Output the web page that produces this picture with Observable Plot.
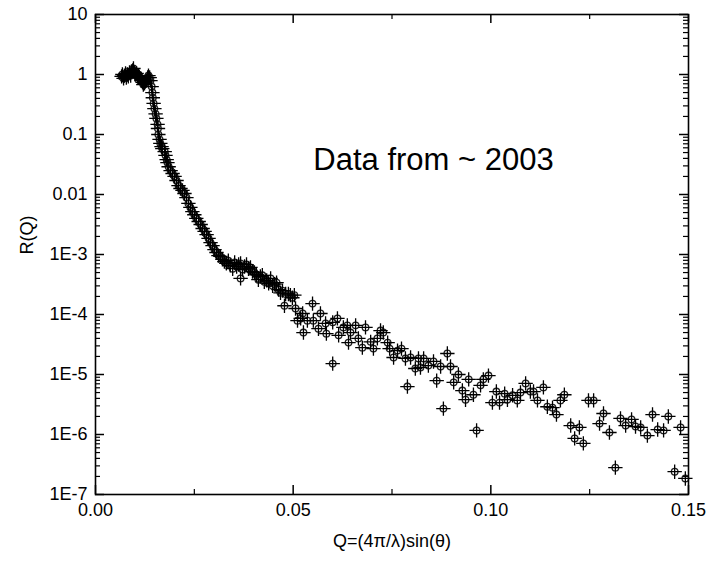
<!DOCTYPE html>
<html>
<head>
<meta charset="utf-8">
<script src="https://cdn.jsdelivr.net/npm/d3@7"></script>
<script src="https://cdn.jsdelivr.net/npm/@observablehq/plot@0.6"></script>
<style>
  html, body { margin: 0; padding: 0; background: #fff; }
</style>
</head>
<body>
<div id="chart"></div>
<script>
// Q values (x) and reflectivity R(Q) (y)
const q = [
  0.0066,0.0068,0.0071,0.0073,0.0076,0.0078,0.0081,0.0083,0.0086,0.0089,
  0.0091,0.0094,0.0096,0.0099,0.0101,0.0104,0.0106,0.0109,0.0111,0.0114,
  0.0116,0.0119,0.0121,0.0124,0.0126,0.0129,0.0132,0.0134,0.0137,0.0139,
  0.0142,0.0144,0.0145,0.0147,0.0149,0.0152,0.0154,0.0157,0.0158,0.0159,
  0.0162,0.0164,0.0167,0.0169,0.0175,0.0177,0.0180,0.0182,0.0185,0.0190,
  0.0195,0.0200,0.0205,0.0210,0.0215,0.0220,0.0225,0.0230,0.0235,0.0240,
  0.0245,0.0250,0.0255,0.0261,0.0266,0.0271,0.0276,0.0281,0.0286,0.0291,
  0.0296,0.0301,0.0306,0.0311,0.0316,0.0321,0.0326,0.0331,0.0336,0.0341,
  0.0347,0.0352,0.0357,0.0362,0.0367,0.0367,0.0372,0.0377,0.0382,0.0387,
  0.0392,0.0397,0.0402,0.0407,0.0412,0.0417,0.0422,0.0427,0.0433,0.0438,
  0.0443,0.0448,0.0453,0.0458,0.0463,0.0468,0.0473,0.0478,0.0481,0.0488,
  0.0493,0.0498,0.0503,0.0506,0.0511,0.0519,0.0524,0.0526,0.0536,0.0549,
  0.0551,0.0564,0.0569,0.0582,0.0584,0.0600,0.0600,0.0612,0.0615,0.0627,
  0.0637,0.0640,0.0645,0.0658,0.0665,0.0675,0.0683,0.0696,0.0703,0.0713,
  0.0721,0.0728,0.0739,0.0744,0.0754,0.0764,0.0774,0.0784,0.0789,0.0797,
  0.0809,0.0817,0.0822,0.0830,0.0842,0.0855,0.0863,0.0873,0.0880,0.0890,
  0.0898,0.0906,0.0918,0.0928,0.0936,0.0944,0.0956,0.0964,0.0974,0.0981,
  0.0994,0.1004,0.1014,0.1022,0.1035,0.1042,0.1055,0.1067,0.1075,0.1088,
  0.1100,0.1108,0.1118,0.1133,0.1143,0.1156,0.1166,0.1176,0.1186,0.1202,
  0.1212,0.1224,0.1234,0.1247,0.1260,0.1275,0.1285,0.1300,0.1315,0.1328,
  0.1341,0.1356,0.1366,0.1379,0.1396,0.1409,0.1422,0.1437,0.1449,0.1465,
  0.1480,0.1492
];
const r = [
  0.93,1.0,0.86,0.96,1.04,0.89,1.0,0.93,1.08,0.96,
  1.12,1.17,1.26,1.08,1.0,1.04,0.93,0.96,0.89,0.86,
  0.79,0.74,0.68,0.71,0.76,0.79,0.89,0.96,0.89,0.79,
  0.63,0.50,0.41,0.33,0.27,0.22,0.185,0.147,0.126,0.100,
  0.083,0.071,0.063,0.058,0.052,0.045,0.038,0.034,0.029,0.025,
  0.0224,0.020,0.0171,0.0141,0.0126,0.0117,0.0104,0.0089,0.0071,0.0061,
  0.0052,0.0046,0.0040,3.55e-3,3.16e-3,2.71e-3,2.42e-3,2.15e-3,1.85e-3,1.58e-3,
  1.41e-3,1.21e-3,1.08e-3,9.6e-4,9.3e-4,8.3e-4,7.6e-4,7.1e-4,7.9e-4,6.6e-4,
  5.8e-4,7.4e-4,6.3e-4,6.8e-4,7.1e-4,4.0e-4,5.6e-4,6.3e-4,6.8e-4,5.8e-4,
  6.1e-4,5.2e-4,5.0e-4,4.6e-4,3.8e-4,4.3e-4,4.5e-4,3.5e-4,3.7e-4,3.3e-4,
  4.0e-4,3.0e-4,3.2e-4,3.4e-4,2.6e-4,2.3e-4,2.5e-4,1.4e-4,2.2e-4,2.2e-4,
  2.1e-4,1.9e-4,2.1e-4,1.26e-4,7.9e-5,8.6e-5,1.04e-4,5.0e-5,7.9e-5,1.52e-4,
  7.9e-5,5.8e-5,1.04e-4,7.1e-5,4.8e-5,7.4e-5,1.52e-5,8.6e-5,4.5e-5,6.1e-5,
  6.6e-5,3.4e-5,5.0e-5,6.6e-5,4.0e-5,2.8e-5,6.1e-5,3.5e-5,2.7e-5,4.0e-5,
  5.4e-5,5.0e-5,3.4e-5,2.7e-5,1.92e-5,2.5e-5,2.7e-5,1.85e-5,6.3e-6,1.92e-5,
  1.26e-5,1.85e-5,1.31e-5,1.85e-5,1.41e-5,1.65e-5,7.9e-6,1.36e-5,2.7e-6,2.24e-5,
  1.36e-5,7.4e-6,1.0e-5,5.4e-6,3.8e-6,8.3e-6,4.6e-6,1.17e-6,6.6e-6,8.3e-6,
  9.6e-6,3.4e-6,5.2e-6,3.4e-6,4.8e-6,3.8e-6,4.5e-6,3.7e-6,5.0e-6,7.1e-6,
  5.2e-6,5.2e-6,3.7e-6,6.1e-6,2.9e-6,2.8e-6,2.15e-6,3.7e-6,4.6e-6,1.41e-6,
  8.6e-7,1.31e-6,7.1e-7,3.7e-6,3.7e-6,1.52e-6,2.24e-6,1.08e-6,2.8e-7,1.85e-6,
  1.41e-6,1.78e-6,1.36e-6,1.31e-6,9.6e-7,2.15e-6,1.21e-6,1.17e-6,2.0e-6,2.4e-7,
  1.31e-6,1.85e-7
];

// axis ticks and their labels
const xMajor = [0, 0.05, 0.10, 0.15];
const xMinor = [0.025, 0.075, 0.125];
const xLabels = ["0.00", "0.05", "0.10", "0.15"];
const yMajor = [10, 1, 0.1, 0.01, 1e-3, 1e-4, 1e-5, 1e-6, 1e-7];
const yLabels = ["10", "1", "0.1", "0.01", "1E-3", "1E-4", "1E-5", "1E-6", "1E-7"];
const yMinorFactors = [2, 3, 4, 5, 6, 7, 8, 9];

const xTitle = "Q=(4\u03c0/\u03bb)sin(\u03b8)";
const yTitle = "R(Q)";
const noteText = ["Data from ~ 2003"];
const noteQ = [0.0551];
const noteR = [0.037];

// build tables for the library
const data = q.map((d, i) => ({q: d, r: r[i]}));
const yMinor = [];
for (const m of yMajor.slice(1)) for (const f of yMinorFactors) yMinor.push(m * f);
const xLab = new Map(xMajor.map((d, i) => [d, xLabels[i]]));
const yLab = new Map(yMajor.map((d, i) => [d, yLabels[i]]));
const notes = noteText.map((t, i) => ({t, q: noteQ[i], r: noteR[i]}));

const W = 708, H = 561;
const mL = 95, mR = 20, mT = 14, mB = 67;
const pw = W - mL - mR, ph = H - mT - mB;
const major = 9, minor = 5;

const chart = Plot.plot({
  width: W,
  height: H,
  marginLeft: mL,
  marginRight: mR,
  marginTop: mT,
  marginBottom: mB,
  style: {fontFamily: "'Liberation Sans', Arial, sans-serif", fontSize: "18px", background: "#fff", color: "#000"},
  x: {domain: [0, 0.15], label: null},
  y: {type: "log", domain: [1e-7, 10], label: null},
  marks: [
    Plot.dot(data, {x: "q", y: "r", r: 3.3, stroke: "#222", strokeWidth: 1.3}),
    Plot.dot(data, {x: "q", y: "r", symbol: "plus", r: 4.7, stroke: "#000", strokeWidth: 1.3}),
    // inward ticks on all four sides
    Plot.ruleY(yMajor, {insetRight: pw - major, stroke: "#000", strokeWidth: 1.5}),
    Plot.ruleY(yMajor, {insetLeft: pw - major, stroke: "#000", strokeWidth: 1.5}),
    Plot.ruleY(yMinor, {insetRight: pw - minor, stroke: "#000", strokeWidth: 1.2}),
    Plot.ruleY(yMinor, {insetLeft: pw - minor, stroke: "#000", strokeWidth: 1.2}),
    Plot.ruleX(xMajor, {insetTop: ph - major, stroke: "#000", strokeWidth: 1.5}),
    Plot.ruleX(xMajor, {insetBottom: ph - major, stroke: "#000", strokeWidth: 1.5}),
    Plot.ruleX(xMinor, {insetTop: ph - minor, stroke: "#000", strokeWidth: 1.2}),
    Plot.ruleX(xMinor, {insetBottom: ph - minor, stroke: "#000", strokeWidth: 1.2}),
    Plot.axisY(yMajor, {anchor: "left", tickSize: 0, tickPadding: 8, tickFormat: d => yLab.get(d), label: null, fontSize: 18}),
    Plot.axisX(xMajor, {anchor: "bottom", tickSize: 0, tickPadding: 9, tickFormat: d => xLab.get(d), label: null, fontSize: 18}),
    Plot.frame({stroke: "#000", strokeWidth: 1.6}),
    Plot.text([yTitle], {frameAnchor: "left", dx: -68, rotate: -90, fontSize: 18}),
    Plot.text([xTitle], {frameAnchor: "bottom", dy: 52, fontSize: 18}),
    Plot.text(notes, {x: "q", y: "r", text: "t", textAnchor: "start", fontSize: 31})
  ]
});
document.getElementById("chart").appendChild(chart);
</script>
</body>
</html>
